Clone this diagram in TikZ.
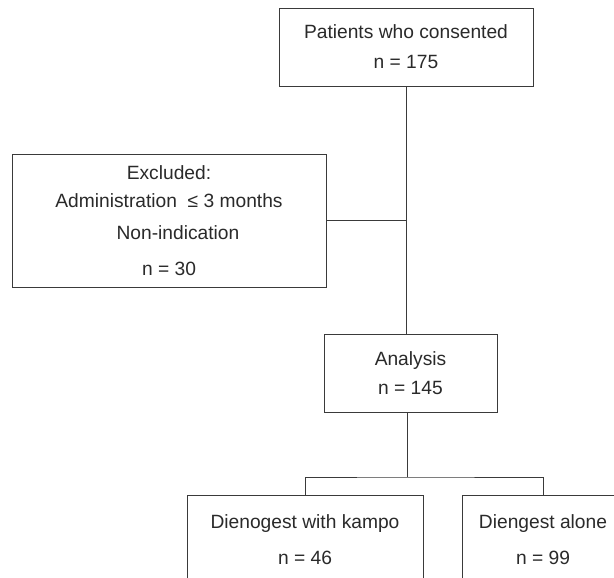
\documentclass[tikz,border=0pt]{standalone}
\usepackage{fontspec}
\setmainfont{Liberation Sans}
\definecolor{linec}{HTML}{3A3A3A}
\definecolor{textc}{HTML}{2A2A2A}
\tikzset{
  box/.style={draw=linec, line width=0.9pt, rectangle, inner sep=0pt, align=center,
    text=textc, font=\fontsize{19.2}{30}\selectfont},
  conn/.style={draw=linec, line width=0.9pt}
}
\begin{document}
\begin{tikzpicture}[x=1pt,y=-1pt]
\clip (0,0) rectangle (614,578);
\fill[white] (0,0) rectangle (614,578);
\node[box, minimum width=254pt, minimum height=78pt] (top) at (406,47)
  {Patients who consented\\n = 175};
\node[box, minimum width=314pt, minimum height=133pt] (exc) at (169,220.5)
  {Excluded:\\[-2pt]Administration~~≤ 3 months\\[2pt]\hspace*{18pt}Non-indication\\[6pt]n = 30};
\node[box, minimum width=173pt, minimum height=78pt] (ana) at (410.5,373)
  {Analysis\\[-1pt]n = 145};
\node[box, minimum width=236pt, minimum height=90pt, font=\fontsize{19.2}{36}\selectfont] (left) at (305,540)
  {Dienogest with kampo\\n = 46};
\node[box, minimum width=162pt, minimum height=90pt, font=\fontsize{19.2}{36}\selectfont] (right) at (543,540)
  {Diengest alone\\n = 99};
\coordinate (split) at (407,477);
\draw[conn] (top.south) -- (top.south |- ana.north);
\draw[conn] (exc.east) -- (exc.east -| top.south);
\draw[conn] (split |- ana.south) -- (split);
\draw[conn] (left.north) |- (split) -| (right.north);
\end{tikzpicture}
\end{document}
